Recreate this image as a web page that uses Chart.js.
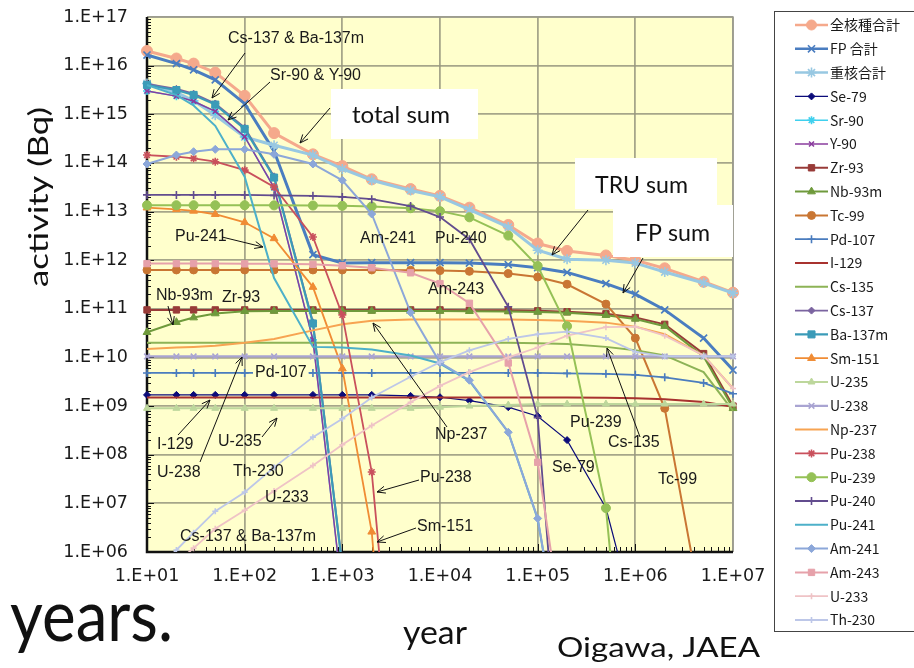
<!DOCTYPE html>
<html>
<head>
<meta charset="utf-8">
<script src="https://cdn.jsdelivr.net/npm/chart.js@4/dist/chart.umd.min.js"></script>
<style>
  html, body { margin: 0; padding: 0; background: #fff; }
  canvas { display: block; }
</style>
</head>
<body>
<canvas id="c" width="914" height="668"></canvas>
<script>
// Time after discharge (years) at which every series is tabulated
const years = [10, 20, 30, 50, 100, 200, 500, 1e3, 2e3, 5e3, 1e4, 2e4, 5e4, 1e5, 2e5, 5e5, 1e6, 2e6, 5e6, 1e7];

// Axis ticks
const xTickValues = [1e1, 1e2, 1e3, 1e4, 1e5, 1e6, 1e7];
const xTickLabels = ['1.E+01', '1.E+02', '1.E+03', '1.E+04', '1.E+05', '1.E+06', '1.E+07'];
const yTickValues = [1e6, 1e7, 1e8, 1e9, 1e10, 1e11, 1e12, 1e13, 1e14, 1e15, 1e16, 1e17];
const yTickLabels = ['1.E+06', '1.E+07', '1.E+08', '1.E+09', '1.E+10', '1.E+11', '1.E+12', '1.E+13', '1.E+14', '1.E+15', '1.E+16', '1.E+17'];

// Activity (Bq) per nuclide; null = no further value
const totalSum = [2.0e16, 1.4e16, 1.1e16, 7.2e15, 2.4e15, 4.1e14, 1.5e14, 8.6e13, 4.6e13, 2.9e13, 2.1e13, 1.2e13, 5.3e12, 2.2e12, 1.55e12, 1.25e12, 1.0e12, 6.8e11, 3.6e11, 2.15e11];
const fpSum    = [1.65e16, 1.1e16, 8.2e15, 5.1e15, 1.65e15, 1.75e14, 1.3e12, 8.8e11, 8.9e11, 8.9e11, 8.9e11, 8.7e11, 8.1e11, 7.0e11, 5.6e11, 3.3e11, 2.0e11, 9.5e10, 2.5e10, 5.5e9];
const truSum   = [4.3e15, 2.8e15, 1.9e15, 9.5e14, 3.4e14, 2.3e14, 1.45e14, 7.5e13, 4.4e13, 2.7e13, 2.0e13, 1.1e13, 4.8e12, 1.6e12, 1.05e12, 1.0e12, 8.7e11, 5.7e11, 3.4e11, 2.1e11];
const se79   = [1.7e9, 1.7e9, 1.7e9, 1.7e9, 1.7e9, 1.7e9, 1.7e9, 1.7e9, 1.7e9, 1.62e9, 1.52e9, 1.3e9, 9.5e8, 6.2e8, 2.0e8, 8e6, 4e4, null, null, null];
const sr90   = [3.0e15, 2.36e15, 1.85e15, 1.15e15, 3.46e14, 3.1e13, 2.3e10, 1.35e5, null, null, null, null, null, null, null, null, null, null, null, null];
const y90    = [3.0e15, 2.36e15, 1.85e15, 1.15e15, 3.46e14, 3.1e13, 2.3e10, 1.35e5, null, null, null, null, null, null, null, null, null, null, null, null];
const zr93   = [9.5e10, 9.5e10, 9.5e10, 9.5e10, 9.5e10, 9.5e10, 9.5e10, 9.5e10, 9.5e10, 9.5e10, 9.5e10, 9.4e10, 9.3e10, 9.1e10, 8.7e10, 7.9e10, 6.6e10, 4.8e10, 1.2e10, 1.0e9];
const nb93m  = [3.3e10, 5.3e10, 6.6e10, 8.0e10, 8.9e10, 9.0e10, 9.0e10, 9.0e10, 9.0e10, 9.0e10, 9.0e10, 8.9e10, 8.8e10, 8.6e10, 8.3e10, 7.4e10, 6.2e10, 4.4e10, 1.05e10, 9e8];
const tc99   = [6.3e11, 6.3e11, 6.3e11, 6.3e11, 6.3e11, 6.3e11, 6.3e11, 6.3e11, 6.3e11, 6.2e11, 6.1e11, 5.9e11, 5.3e11, 4.5e11, 3.2e11, 1.25e11, 2.5e10, 9e8, 4e4, null];
const pd107  = [4.8e9, 4.8e9, 4.8e9, 4.8e9, 4.8e9, 4.8e9, 4.8e9, 4.8e9, 4.8e9, 4.8e9, 4.8e9, 4.8e9, 4.8e9, 4.8e9, 4.7e9, 4.6e9, 4.4e9, 3.9e9, 3.0e9, 1.8e9];
const i129   = [1.5e9, 1.5e9, 1.5e9, 1.5e9, 1.5e9, 1.5e9, 1.5e9, 1.5e9, 1.5e9, 1.5e9, 1.5e9, 1.5e9, 1.5e9, 1.5e9, 1.5e9, 1.48e9, 1.45e9, 1.38e9, 1.22e9, 9.7e8];
const cs135  = [2.0e10, 2.0e10, 2.0e10, 2.0e10, 2.0e10, 2.0e10, 2.0e10, 2.0e10, 2.0e10, 2.0e10, 2.0e10, 2.0e10, 2.0e10, 1.95e10, 1.9e10, 1.65e10, 1.4e10, 1.1e10, 5e9, 8e8];
const cs137  = [4.2e15, 3.33e15, 2.65e15, 1.67e15, 5.3e14, 5.3e13, 5.3e10, 5.3e5, null, null, null, null, null, null, null, null, null, null, null, null];
const ba137m = [4.0e15, 3.15e15, 2.5e15, 1.58e15, 5.0e14, 5.0e13, 5.0e10, 5.0e5, null, null, null, null, null, null, null, null, null, null, null, null];
const sm151  = [1.2e13, 1.11e13, 1.03e13, 8.8e12, 6.0e12, 2.8e12, 2.8e11, 5.9e9, 2.6e6, 1e-3, null, null, null, null, null, null, null, null, null, null];
const u235   = [9e8, 9e8, 9e8, 9e8, 9e8, 9e8, 9e8, 9e8, 9e8, 9e8, 9.5e8, 1.0e9, 1.05e9, 1.1e9, 1.1e9, 1.1e9, 1.1e9, 1.1e9, 1.1e9, 1.1e9];
const u238   = [1.05e10, 1.05e10, 1.05e10, 1.05e10, 1.05e10, 1.05e10, 1.05e10, 1.05e10, 1.05e10, 1.05e10, 1.05e10, 1.05e10, 1.05e10, 1.05e10, 1.05e10, 1.05e10, 1.05e10, 1.05e10, 1.05e10, 1.05e10];
const np237  = [1.5e10, 1.6e10, 1.65e10, 1.75e10, 2.0e10, 2.4e10, 3.6e10, 4.8e10, 5.7e10, 6.0e10, 6.0e10, 6.0e10, 6.0e10, 5.9e10, 5.7e10, 5.2e10, 4.3e10, 3.0e10, 1.1e10, 2.3e9];
const pu238  = [1.45e14, 1.34e14, 1.24e14, 1.06e14, 7.1e13, 3.2e13, 3.0e12, 7.5e10, 4.4e7, 0.1, null, null, null, null, null, null, null, null, null, null];
const pu239  = [1.35e13, 1.35e13, 1.35e13, 1.35e13, 1.35e13, 1.34e13, 1.33e13, 1.31e13, 1.27e13, 1.17e13, 1.02e13, 7.6e12, 3.2e12, 7.6e11, 4.4e10, 8e6, 4, null, null, null];
const pu240  = [2.2e13, 2.2e13, 2.2e13, 2.2e13, 2.2e13, 2.15e13, 2.1e13, 2.0e13, 1.8e13, 1.3e13, 7.7e12, 2.7e12, 1.1e11, 5.8e8, 15, null, null, null, null, null];
const pu241  = [4.0e15, 2.47e15, 1.52e15, 5.8e14, 5.2e13, 4.3e11, 1.65e10, 1.6e10, 1.45e10, 1.1e10, 7.5e9, 3.3e9, 2.9e8, 4.8e6, 1.4e3, null, null, null, null, null];
const am241  = [9.5e13, 1.45e14, 1.7e14, 1.9e14, 1.9e14, 1.5e14, 9.5e13, 4.4e13, 8.9e12, 8.4e10, 7.8e9, 3.4e9, 2.9e8, 4.9e6, 1.5e3, null, null, null, null, null];
const am243  = [8.5e11, 8.5e11, 8.5e11, 8.5e11, 8.4e11, 8.4e11, 8.2e11, 7.7e11, 7.0e11, 5.5e11, 3.3e11, 1.3e11, 7.7e9, 7e7, 6e3, null, null, null, null, null];
const u233   = [2e5, 6e5, 1.2e6, 3e6, 7.2e6, 1.8e7, 6e7, 1.6e8, 4e8, 1.2e9, 2.6e9, 5e9, 1e10, 1.6e10, 2.8e10, 4.2e10, 4.3e10, 2.8e10, 1.1e10, 2.3e9];
const th230  = [2.8e5, 1.1e6, 2.5e6, 6.9e6, 1.7e7, 5.5e7, 2.3e8, 5.5e8, 1.5e9, 4e9, 8e9, 1.4e10, 2.4e10, 3e10, 3.4e10, 2.5e10, 1.3e10, 1.05e10, 1.05e10, 1.05e10];

// Series: label, values, line colour, line width, marker style, marker radius
const series = [
  ['全核種合計', totalSum, '#F5A98C', 3,   'circle',   5.5],
  ['FP 合計',    fpSum,    '#4A7DC0', 3,   'crossRot', 5],
  ['重核合計',   truSum,   '#98C8E2', 3,   'star',     5],
  ['Se-79',      se79,     '#0B0B7A', 1.2, 'rectRot',  3.5],
  ['Sr-90',      sr90,     '#3FD0EE', 1.5, 'star',     4],
  ['Y-90',       y90,      '#8A3C9E', 1.5, 'crossRot', 3.5],
  ['Zr-93',      zr93,     '#983B38', 2,   'rect',     4.5],
  ['Nb-93m',     nb93m,    '#6F9A3C', 2,   'triangle', 4.5],
  ['Tc-99',      tc99,     '#C97633', 2,   'circle',   4],
  ['Pd-107',     pd107,    '#4A7CBE', 1.8, 'cross',    4],
  ['I-129',      i129,     '#A8322F', 2,   false,      0],
  ['Cs-135',     cs135,    '#8DB356', 2,   false,      0],
  ['Cs-137',     cs137,    '#7B64A0', 1.8, 'rectRot',  3.5],
  ['Ba-137m',    ba137m,   '#3B9BB8', 2.2, 'rect',     5],
  ['Sm-151',     sm151,    '#F08C34', 1.8, 'triangle', 4.5],
  ['U-235',      u235,     '#BDD79C', 2,   'triangle', 4],
  ['U-238',      u238,     '#A9A4D2', 2.2, 'crossRot', 4],
  ['Np-237',     np237,    '#F7A452', 2,   false,      0],
  ['Pu-238',     pu238,    '#C9505C', 1.8, 'star',     4],
  ['Pu-239',     pu239,    '#95C156', 2,   'circle',   4.5],
  ['Pu-240',     pu240,    '#624C8E', 1.8, 'cross',    4],
  ['Pu-241',     pu241,    '#4DB0C9', 2,   false,      0],
  ['Am-241',     am241,    '#8CA7D9', 2,   'rectRot',  4],
  ['Am-243',     am243,    '#E6A1AA', 2,   'rect',     4.5],
  ['U-233',      u233,     '#EFC3C6', 1.8, 'cross',    3],
  ['Th-230',     th230,    '#BDC7E8', 1.8, 'cross',    3]
];

const strokeOnly = ['cross', 'crossRot', 'star', 'line', 'dash'];

const datasets = series.map(([label, vals, color, width, marker, radius], i) => ({
  label,
  data: years.map((x, k) => ({ x, y: vals[k] })).filter(p => p.y !== null),
  borderColor: color,
  backgroundColor: color,
  borderWidth: width,
  pointStyle: marker || 'circle',
  pointRadius: marker ? radius : 0,
  pointHoverRadius: marker ? radius : 0,
  pointBackgroundColor: color,
  pointBorderColor: color,
  pointBorderWidth: marker && strokeOnly.includes(marker) ? 1.6 : 1,
  tension: 0,
  order: -i,
  clip: { left: 8, right: 8, top: 0, bottom: 0 }
}));

// Text callouts placed on the plot (canvas pixels)
const callouts = [
  ['Cs-137 & Ba-137m', 228, 39], ['Sr-90 & Y-90', 270, 76], ['Pu-241', 175, 237],
  ['Am-241', 360, 239], ['Pu-240', 435, 239], ['Am-243', 428, 290],
  ['Nb-93m', 156, 296], ['Zr-93', 222, 298], ['I-129', 157, 445], ['U-238', 157, 473],
  ['U-235', 218, 442], ['Th-230', 233, 472], ['U-233', 265, 498],
  ['Cs-137 & Ba-137m', 180, 537], ['Np-237', 435, 435], ['Pu-238', 420, 478],
  ['Sm-151', 417, 527], ['Pu-239', 570, 423], ['Cs-135', 608, 443],
  ['Se-79', 552, 468], ['Tc-99', 658, 480]
];
const arrows = [
  [245, 53, 212, 98], [270, 82, 228, 120], [330, 108, 300, 143], [588, 210, 552, 255],
  [643, 258, 623, 293], [222, 237, 263, 247], [168, 306, 173, 325], [178, 435, 210, 400],
  [200, 462, 242, 357], [262, 437, 277, 418], [447, 427, 373, 323], [419, 480, 377, 492],
  [416, 528, 377, 542], [640, 437, 607, 348]
];
// White boxes with large captions: [x, y, w, h]
const boxes = [[331, 89, 147, 50], [575, 158, 142, 51], [613, 205, 120, 52]];
const captions = [
  ['total sum', 352, 123, 98, 23],
  ['TRU sum', 595, 193, 93, 23],
  ['FP sum', 635, 241, 75, 23]
];

const SANS = 'Lato, "Open Sans", sans-serif';

function fitText(ctx, text, x, y, width, size) {
  ctx.save();
  ctx.font = size + 'px ' + SANS;
  const w = ctx.measureText(text).width;
  ctx.translate(x, y);
  ctx.scale(width / w, 1);
  ctx.textAlign = 'left';
  ctx.textBaseline = 'alphabetic';
  ctx.fillText(text, 0, 0);
  ctx.restore();
}

function arrow(ctx, x1, y1, x2, y2) {
  const a = Math.atan2(y2 - y1, x2 - x1);
  const h = 9, s = 0.4;
  ctx.beginPath();
  ctx.moveTo(x1, y1); ctx.lineTo(x2, y2);
  ctx.moveTo(x2 - h * Math.cos(a - s), y2 - h * Math.sin(a - s));
  ctx.lineTo(x2, y2);
  ctx.lineTo(x2 - h * Math.cos(a + s), y2 - h * Math.sin(a + s));
  ctx.stroke();
}

const plotFill = '#FFFFCC';
const gridColor = 'rgba(150,150,126,0.85)';

const framePlugin = {
  id: 'frame',
  beforeDraw(chart) {
    const { ctx, chartArea: a } = chart;
    ctx.save();
    ctx.fillStyle = plotFill;
    ctx.fillRect(a.left, a.top, a.right - a.left, a.bottom - a.top);
    ctx.restore();
  },
  beforeDatasetsDraw(chart) {
    const { ctx, chartArea: a, scales: { x, y } } = chart;
    ctx.save();
    ctx.strokeStyle = '#9A9A90';
    ctx.lineWidth = 1.5;
    ctx.beginPath();
    ctx.moveTo(a.left, a.top); ctx.lineTo(a.right, a.top); ctx.lineTo(a.right, a.bottom);
    ctx.stroke();
    ctx.strokeStyle = '#111';
    ctx.lineWidth = 1;
    ctx.beginPath();
    for (let d = 6; d < 17; d++) {
      for (let m = 1; m < 10; m++) {
        const py = Math.round(y.getPixelForValue(m * Math.pow(10, d))) + 0.5;
        ctx.moveTo(a.left, py); ctx.lineTo(a.left + (m === 1 ? 7 : 4), py);
      }
    }
    for (let d = 1; d < 7; d++) {
      for (let m = 1; m < 10; m++) {
        const px = Math.round(x.getPixelForValue(m * Math.pow(10, d))) + 0.5;
        ctx.moveTo(px, a.bottom); ctx.lineTo(px, a.bottom - (m === 1 ? 8 : 5));
      }
    }
    ctx.stroke();
    ctx.lineWidth = 2.5;
    ctx.beginPath();
    ctx.moveTo(a.left, a.top); ctx.lineTo(a.left, a.bottom); ctx.lineTo(a.right, a.bottom);
    ctx.stroke();
    ctx.restore();
  }
};

const notesPlugin = {
  id: 'notes',
  afterDatasetsDraw(chart) {
    const ctx = chart.ctx;
    ctx.save();
    // Pd-107 sits inline on its own line
    ctx.font = '16px "Liberation Sans", Arial, sans-serif';
    ctx.textBaseline = 'middle';
    const pw = ctx.measureText('Pd-107').width;
    ctx.fillStyle = plotFill;
    ctx.fillRect(253, 365, pw + 4, 16);
    ctx.fillStyle = '#1a1a1a';
    ctx.fillText('Pd-107', 255, 373);
    callouts.forEach(([t, x, y]) => ctx.fillText(t, x, y));
    ctx.fillStyle = '#fff';
    boxes.forEach(([x, y, w, h]) => ctx.fillRect(x, y, w, h));
    ctx.fillStyle = '#111';
    captions.forEach(([t, x, y, w, s]) => fitText(ctx, t, x, y, w, s));
    ctx.strokeStyle = '#111';
    ctx.lineWidth = 1;
    arrows.forEach(([x1, y1, x2, y2]) => arrow(ctx, x1, y1, x2, y2));
    ctx.restore();
  },
  afterDraw(chart) {
    const ctx = chart.ctx;
    ctx.save();
    ctx.fillStyle = '#111';
    // axis titles and page text
    ctx.save();
    ctx.translate(48, 287);
    ctx.rotate(-Math.PI / 2);
    fitText(ctx, 'activity (Bq)', 0, 0, 180, 26);
    ctx.restore();
    fitText(ctx, 'year', 403, 644, 64, 33);
    fitText(ctx, 'Oigawa, JAEA', 557, 657, 203, 26);
    fitText(ctx, 'years.', 10, 641, 163, 72);
    ctx.restore();
  }
};

const legendPlugin = {
  id: 'sideLegend',
  afterDraw(chart) {
    const ctx = chart.ctx;
    ctx.save();
    ctx.strokeStyle = '#444';
    ctx.lineWidth = 1;
    ctx.strokeRect(774.5, 11.5, 200, 620);
    chart.data.datasets.forEach((ds, i) => {
      const yy = 25 + i * 23.8;
      ctx.strokeStyle = ds.borderColor;
      ctx.lineWidth = Math.min(ds.borderWidth, 2.5);
      ctx.beginPath(); ctx.moveTo(795, yy); ctx.lineTo(828, yy); ctx.stroke();
      if (ds.pointRadius > 0) {
        ctx.fillStyle = ds.pointBackgroundColor;
        ctx.strokeStyle = ds.pointBorderColor;
        ctx.lineWidth = ds.pointBorderWidth;
        Chart.helpers.drawPoint(ctx, {
          pointStyle: ds.pointStyle, rotation: 0,
          radius: Math.min(ds.pointRadius, 5), borderWidth: ds.pointBorderWidth
        }, 811.5, yy);
      }
      ctx.fillStyle = '#1a1a1a';
      ctx.font = '14px "Noto Sans CJK JP", sans-serif';
      ctx.textBaseline = 'middle';
      ctx.textAlign = 'left';
      ctx.fillText(ds.label, 830, yy);
    });
    ctx.restore();
  }
};

const tickFont = { family: '"DejaVu Sans", sans-serif', size: 17.5 };

new Chart(document.getElementById('c').getContext('2d'), {
  type: 'line',
  data: { datasets },
  options: {
    responsive: false,
    animation: false,
    events: [],
    layout: { padding: { left: 0, top: 17, right: 181, bottom: 76 } },
    plugins: { legend: { display: false }, tooltip: { enabled: false } },
    scales: {
      x: {
        type: 'logarithmic',
        min: 10, max: 1e7,
        afterBuildTicks: s => { s.ticks = xTickValues.map(v => ({ value: v })); },
        afterFit: s => { s.height = 40; s.paddingLeft = 0; s.paddingRight = 0; },
        ticks: {
          autoSkip: false, maxRotation: 0, padding: 14, color: '#1a1a1a', font: tickFont,
          callback: (v, i) => xTickLabels[i]
        },
        grid: { color: gridColor, lineWidth: 1.8, drawTicks: false },
        border: { display: false }
      },
      y: {
        type: 'logarithmic',
        min: 1e6, max: 1e17,
        afterBuildTicks: s => { s.ticks = yTickValues.map(v => ({ value: v })); },
        afterFit: s => { s.width = 147; s.paddingTop = 0; s.paddingBottom = 0; },
        ticks: {
          autoSkip: false, padding: 19, color: '#1a1a1a', font: tickFont,
          callback: (v, i) => yTickLabels[i]
        },
        grid: { color: gridColor, lineWidth: 1.8, drawTicks: false },
        border: { display: false }
      }
    }
  },
  plugins: [framePlugin, notesPlugin, legendPlugin]
});
</script>
</body>
</html>
